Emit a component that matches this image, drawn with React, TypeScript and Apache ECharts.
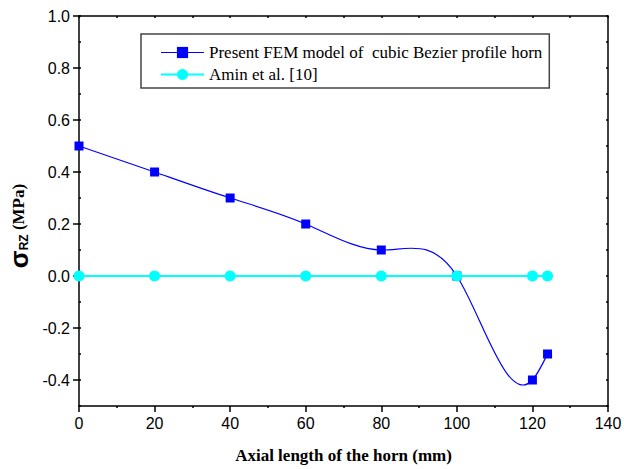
import React, { useEffect, useRef } from "react";
import * as echarts from "echarts";

const xPositions = [0, 20, 40, 60, 80, 100, 120, 124];
const femValues = [0.5, 0.4, 0.3, 0.2, 0.1, 0.0, -0.4, -0.3];
const aminValues = [0, 0, 0, 0, 0, 0, 0, 0];
const yTickValues = [-0.4, -0.2, 0, 0.2, 0.4, 0.6, 0.8, 1.0];
const femName = "Present FEM model of  cubic Bezier profile horn";
const aminName = "Amin et al. [10]";
const xTitle = "Axial length of the horn (mm)";

function splineSlopes(xs: number[], ys: number[]): number[] {
  const n = xs.length;
  const h: number[] = [];
  for (let i = 0; i < n - 1; i++) h.push(xs[i + 1] - xs[i]);
  const M = new Array(n).fill(0);
  const m = n - 2;
  const a: number[] = [], b: number[] = [], c: number[] = [], d: number[] = [];
  for (let i = 1; i <= m; i++) {
    a.push(h[i - 1]);
    b.push(2 * (h[i - 1] + h[i]));
    c.push(h[i]);
    d.push(6 * ((ys[i + 1] - ys[i]) / h[i] - (ys[i] - ys[i - 1]) / h[i - 1]));
  }
  for (let i = 1; i < m; i++) {
    const w = a[i] / b[i - 1];
    b[i] -= w * c[i - 1];
    d[i] -= w * d[i - 1];
  }
  const sol = new Array(m).fill(0);
  for (let i = m - 1; i >= 0; i--) {
    sol[i] = (d[i] - (i < m - 1 ? c[i] * sol[i + 1] : 0)) / b[i];
  }
  for (let i = 0; i < m; i++) M[i + 1] = sol[i];
  const s: number[] = [];
  for (let i = 0; i < n - 1; i++) {
    s.push((ys[i + 1] - ys[i]) / h[i] - (h[i] * (2 * M[i] + M[i + 1])) / 6);
  }
  s.push((ys[n - 1] - ys[n - 2]) / h[n - 2] + (h[n - 2] * (M[n - 2] + 2 * M[n - 1])) / 6);
  return s;
}

const tickFont = "'Liberation Sans', Arial, sans-serif";
const serifFont = "'Liberation Serif', 'Times New Roman', serif";

export default function App() {
  const ref = useRef<HTMLDivElement>(null);
  useEffect(() => {
    if (!ref.current) return;
    const chart = echarts.init(ref.current, undefined, { renderer: "svg" });
    const slopes = splineSlopes(xPositions, femValues);
    const axisLine = { show: true, onZero: false, lineStyle: { color: "#000", width: 1.5 } };
    const tinyTick = { show: true, inside: true, length: 2, lineStyle: { color: "#000", width: 1.5 } };
    const option: any = {
      animation: false,
      backgroundColor: "#fff",
      grid: { left: 79, right: 16, top: 16, bottom: 63, containLabel: false, outerBoundsMode: "none" },
      legend: {
        left: 141,
        top: 34,
        orient: "vertical",
        borderColor: "#444",
        borderWidth: 1.5,
        borderRadius: 0,
        padding: [10, 7, 5, 19],
        itemGap: 5,
        itemWidth: 43,
        itemHeight: 14,
        textStyle: { fontFamily: serifFont, fontSize: 17, color: "#000", lineHeight: 17 },
        data: [
          { name: femName, lineStyle: { opacity: 1, color: "#0000ff", width: 1.2 } },
          { name: aminName },
        ],
      },
      xAxis: [
        {
          type: "value",
          position: "bottom",
          min: 0,
          max: 140,
          interval: 20,
          axisLine,
          axisTick: { show: true, length: 6, lineStyle: { color: "#000", width: 1.5 } },
          minorTick: { show: true, splitNumber: 2, length: 2, lineStyle: { color: "#000", width: 1.5 } },
          splitLine: { show: false },
          axisLabel: { fontFamily: tickFont, fontSize: 16, color: "#000", margin: 9 },
          name: xTitle,
          nameLocation: "middle",
          nameGap: 41,
          nameTextStyle: { fontFamily: serifFont, fontSize: 17, fontWeight: "bold", color: "#000" },
        },
        {
          type: "value",
          position: "top",
          min: 0,
          max: 140,
          interval: 10,
          axisLine,
          axisTick: tinyTick,
          axisLabel: { show: false },
          splitLine: { show: false },
        },
      ],
      yAxis: [
        {
          type: "value",
          position: "left",
          min: -0.5,
          max: 1.0,
          axisLine,
          axisTick: {
            show: true,
            length: 6,
            customValues: yTickValues,
            lineStyle: { color: "#000", width: 1.5 },
          },
          splitLine: { show: false },
          axisLabel: {
            fontFamily: tickFont,
            fontSize: 16,
            color: "#000",
            margin: 9,
            customValues: yTickValues,
            formatter: (v: number) => v.toFixed(1),
          },
          name: "{s|σ}{sub|RZ}{u| (MPa)}",
          nameLocation: "middle",
          nameRotate: 90,
          nameGap: 47,
          nameTextStyle: {
            padding: [0, 30, 0, 0],
            rich: {
              s: { fontFamily: tickFont, fontSize: 26, fontWeight: "bold", color: "#000" },
              sub: { fontFamily: tickFont, fontSize: 12, fontWeight: "bold", color: "#000", padding: [10, 0, 0, 0] },
              u: { fontFamily: serifFont, fontSize: 17, fontWeight: "bold", color: "#000" },
            },
          },
        },
        {
          type: "value",
          position: "right",
          min: -0.5,
          max: 1.0,
          interval: 0.1,
          axisLine,
          axisTick: tinyTick,
          axisLabel: { show: false },
          splitLine: { show: false },
        },
        {
          type: "value",
          position: "left",
          offset: 0,
          min: -0.5,
          max: 1.0,
          interval: 0.1,
          axisLine: { show: false, onZero: false },
          axisTick: tinyTick,
          axisLabel: { show: false },
          splitLine: { show: false },
        },
      ],
      series: [
        {
          type: "custom",
          name: "spline",
          xAxisIndex: 0,
          yAxisIndex: 0,
          z: 1,
          silent: true,
          data: [[0, 0]],
          renderItem: (_params: any, api: any) => {
            const pt = (x: number, y: number) => {
              const p = api.coord([x, y]);
              return p[0].toFixed(2) + "," + p[1].toFixed(2);
            };
            let d = "M" + pt(xPositions[0], femValues[0]);
            for (let i = 0; i < xPositions.length - 1; i++) {
              const h = xPositions[i + 1] - xPositions[i];
              d +=
                " C" +
                pt(xPositions[i] + h / 3, femValues[i] + (slopes[i] * h) / 3) +
                " " +
                pt(xPositions[i + 1] - h / 3, femValues[i + 1] - (slopes[i + 1] * h) / 3) +
                " " +
                pt(xPositions[i + 1], femValues[i + 1]);
            }
            return {
              type: "path",
              shape: { pathData: d },
              style: { fill: "none", stroke: "#0000ff", lineWidth: 1.2 },
            };
          },
        },
        {
          type: "line",
          name: femName,
          xAxisIndex: 0,
          yAxisIndex: 0,
          z: 3,
          data: xPositions.map((x, i) => [x, femValues[i]]),
          symbol: "rect",
          symbolSize: 9,
          itemStyle: { color: "#0000ff" },
          lineStyle: { color: "#0000ff", width: 1.2, opacity: 0 },
        },
        {
          type: "line",
          name: aminName,
          xAxisIndex: 0,
          yAxisIndex: 0,
          z: 4,
          data: xPositions.map((x, i) => [x, aminValues[i]]),
          symbol: "circle",
          symbolSize: 11,
          itemStyle: { color: "#00ffff" },
          lineStyle: { color: "#00ffff", width: 2.2 },
        },
      ],
    };
    chart.setOption(option);
    return () => chart.dispose();
  }, []);
  return (
    <div
      ref={ref}
      style={{ position: "fixed", left: 0, top: 0, width: 624, height: 469, background: "#fff" }}
    />
  );
}
